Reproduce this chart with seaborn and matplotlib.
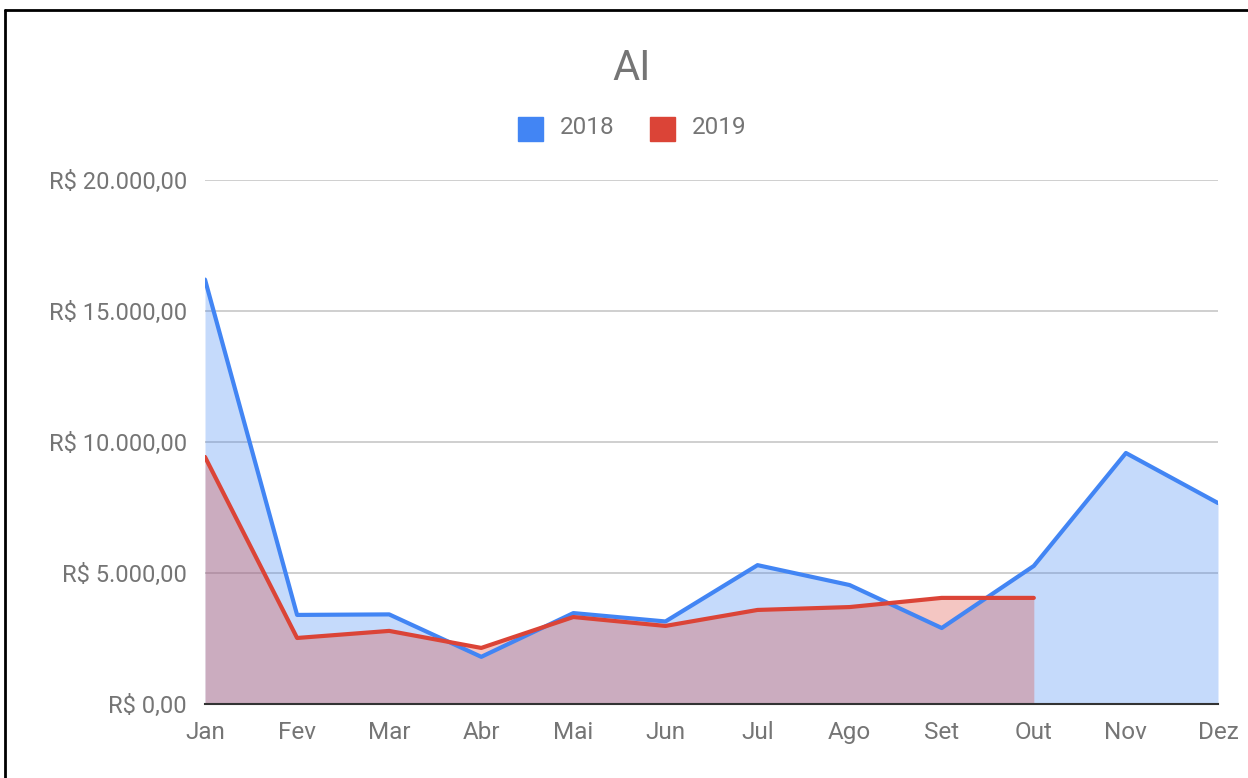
import numpy as np
import pandas as pd
import matplotlib.pyplot as plt
import seaborn as sns
from matplotlib.lines import Line2D
from matplotlib.patches import Rectangle
from matplotlib.ticker import FuncFormatter

meses = ["Jan", "Fev", "Mar", "Abr", "Mai", "Jun", "Jul", "Ago", "Set", "Out", "Nov", "Dez"]
valores_2018 = [16200, 3400, 3420, 1800, 3470, 3150, 5300, 4540, 2900, 5270, 9580, 7670]
valores_2019 = [9430, 2520, 2790, 2140, 3320, 2980, 3590, 3700, 4050, 4050]

anos = ["2018", "2019"]
cores = {"2018": "#4285F4", "2019": "#DB4437"}

df = pd.concat([
    pd.DataFrame({"mes": np.arange(len(valores_2018)), "valor": valores_2018, "ano": "2018"}),
    pd.DataFrame({"mes": np.arange(len(valores_2019)), "valor": valores_2019, "ano": "2019"}),
])

sns.set_theme(style="white")
plt.rcParams["font.family"] = ["Roboto", "DejaVu Sans"]
cinza = "#757575"

fig = plt.figure(figsize=(12.48, 7.78), dpi=100)
ax = fig.add_axes([205 / 1248, 1 - 704 / 778, (1218 - 205) / 1248, (704 - 180) / 778])

for ano in anos:
    d = df[df["ano"] == ano]
    ax.fill_between(d["mes"], 0, d["valor"], color=cores[ano], alpha=0.3, linewidth=0, zorder=2)

sns.lineplot(data=df, x="mes", y="valor", hue="ano", palette=cores, linewidth=3,
             legend=False, ax=ax, zorder=3)

ax.set_xlim(0, 11)
ax.set_ylim(0, 20000)
ax.set_yticks([0, 5000, 10000, 15000, 20000])
ax.yaxis.set_major_formatter(FuncFormatter(
    lambda v, p: "R$ " + f"{v:,.2f}".replace(",", "X").replace(".", ",").replace("X", ".")))
ax.set_xticks(range(12))
ax.set_xticklabels(meses)
ax.set_xlabel("")
ax.set_ylabel("")
ax.grid(axis="y", color="#cccccc", linewidth=1.3, zorder=1)
ax.set_axisbelow(True)
for s in ["top", "right", "left"]:
    ax.spines[s].set_visible(False)
ax.spines["bottom"].set_color("#333333")
ax.spines["bottom"].set_linewidth(1.5)
ax.spines["bottom"].set_zorder(4)
ax.tick_params(axis="both", length=0, labelcolor=cinza)
ax.tick_params(axis="y", pad=13, labelsize=17)
ax.tick_params(axis="x", pad=12, labelsize=17.5)

fig.text(632 / 1248, 1 - 68 / 778, "AI", ha="center", va="center", fontsize=30, color=cinza)

# legenda
for ano, xq in zip(anos, [518, 650]):
    fig.add_artist(Rectangle((xq / 1248, 1 - 141 / 778), 25 / 1248, 24 / 778,
                             transform=fig.transFigure, color=cores[ano]))
    fig.text((xq + 42) / 1248, 1 - 128 / 778, ano, ha="left", va="center",
             fontsize=17.5, color=cinza)

# moldura
fig.add_artist(Line2D([5 / 1248, 1], [1 - 10 / 778, 1 - 10 / 778], transform=fig.transFigure,
                      color="black", linewidth=2))
fig.add_artist(Line2D([5 / 1248, 5 / 1248], [0, 1 - 10 / 778], transform=fig.transFigure,
                      color="black", linewidth=2))

fig.savefig("out.png", dpi=100)
